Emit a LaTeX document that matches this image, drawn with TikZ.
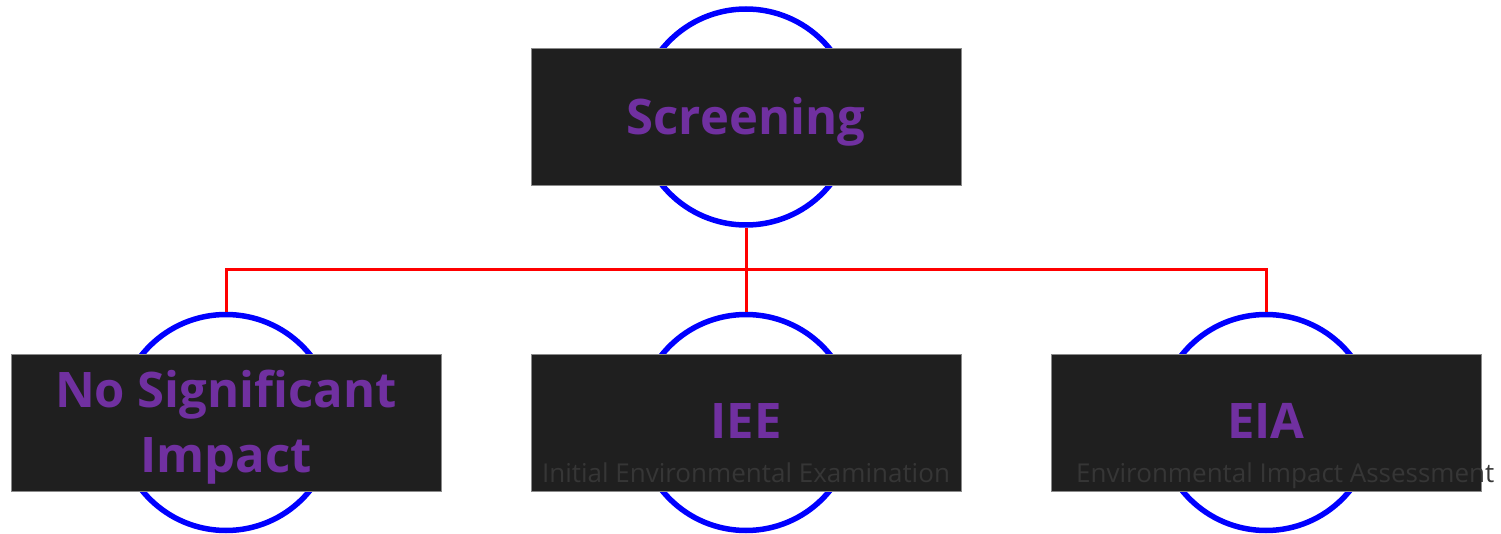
\documentclass[tikz,border=0pt]{standalone}
\usepackage{fontspec}
\setmainfont{Open Sans}
\usetikzlibrary{positioning}
\definecolor{boxgray}{HTML}{1F1F1F}
\definecolor{edgegray}{HTML}{8A8A8A}
\definecolor{titlepurple}{HTML}{7030A0}
\definecolor{subgray}{HTML}{363636}
\tikzset{ring/.style={draw=blue,line width=5.5pt,circle,minimum size=216pt,inner sep=0},
    stagebox/.style={draw=edgegray,line width=1pt,fill=boxgray,rectangle,minimum width=430pt,minimum height=137pt,inner sep=0},
    stagetitle/.style={text=titlepurple,font=\fontsize{49}{65}\selectfont\bfseries,align=center,inner sep=0,anchor=base},
    stagesub/.style={text=subgray,font=\fontsize{26}{30}\selectfont,inner sep=0,anchor=base},
    link/.style={draw=red,line width=3pt}}

\begin{document}
\begin{tikzpicture}[x=1pt,y=-1pt]
\useasboundingbox (0,0) rectangle (1501,534);

% rings behind the boxes
\node (scrRing) [ring] at (746,117) {};
\node (nsiRing) [ring] at (226,422.5) {};
\node (ieeRing) [ring] at (746,422.5) {};
\node (eiaRing) [ring] at (1266,422.5) {};

% connectors
\coordinate (fork) at (746,270);
\draw [link] (scrRing.south) -- (fork);
\draw [link] (fork) -| (nsiRing.north);
\draw [link] (fork) -- (ieeRing.north);
\draw [link] (fork) -| (eiaRing.north);

% boxes
\node (scr) [stagebox] at (746,117) {};
\node (nsi) [stagebox] at (226,422.5) {};
\node (iee) [stagebox] at (746,422.5) {};
\node (eia) [stagebox] at (1266,422.5) {};

\node (scrT) [stagetitle] at (746,135) {Screening};
\node (nsiT) [stagetitle] at (226,472) {No Significant\\Impact};
\node (ieeT) [stagetitle] at (746,438) {IEE};
\node (ieeS) [stagesub] at (746,482) {Initial Environmental Examination};
\node (eiaT) [stagetitle] at (1266,438) {EIA};
\node (eiaS) [stagesub,anchor=base west] at (1076,482) {Environmental Impact Assessment};

\end{tikzpicture}
\end{document}
